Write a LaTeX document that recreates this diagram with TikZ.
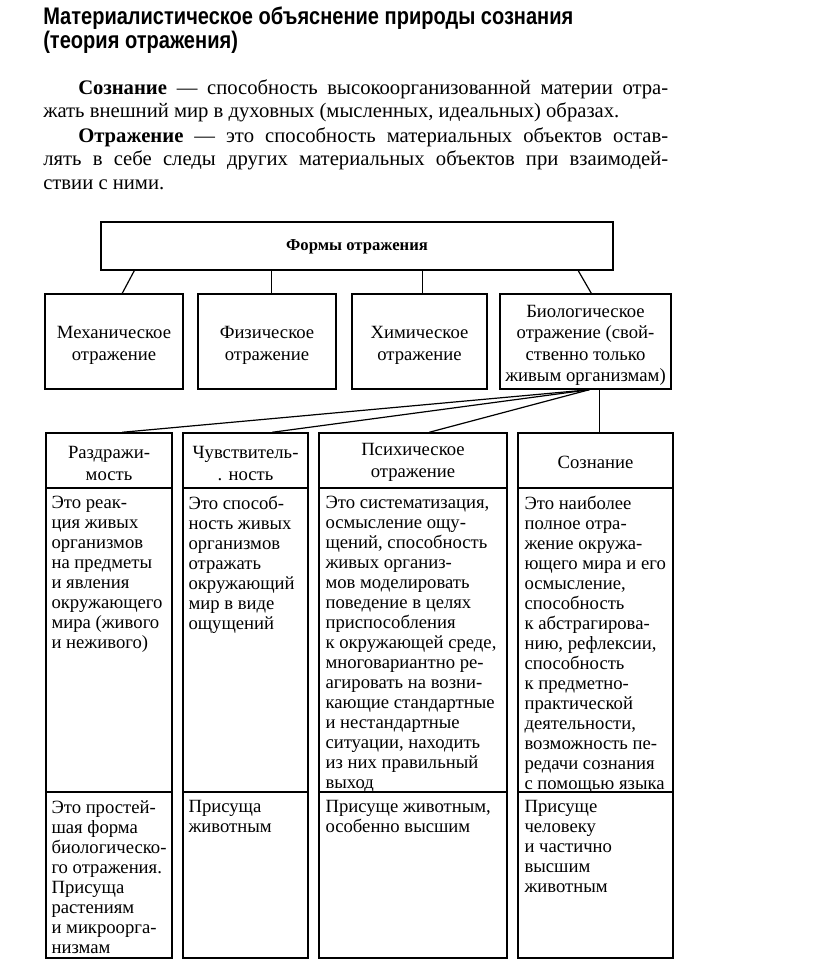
\documentclass[tikz,border=0pt]{standalone}
\usepackage{fontspec}
\setmainfont{Liberation Serif}
\newfontfamily\titlefont{Liberation Sans}
\usetikzlibrary{fit,calc}
\newcommand{\hfitw}[2]{\resizebox{#1}{\height}{#2}}
\begin{document}
\begin{tikzpicture}[x=0.75pt,y=-0.75pt,
  box/.style={draw, inner sep=0pt, line width=1.1pt},
  conn/.style={draw, line width=0.9pt},
  ctxt/.style={inner sep=0pt, align=center, font=\fontsize{14}{16}\selectfont},
  txt/.style={inner sep=0pt, align=left, anchor=north west, font=\fontsize{14}{15}\selectfont},
  para/.style={inner sep=0pt, anchor=base west, font=\fontsize{15.5}{18}\selectfont},
  ttl/.style={inner sep=0pt, anchor=base west, font=\titlefont\bfseries\fontsize{18}{22}\selectfont}]
\useasboundingbox[fill=white] (0,0) rectangle (816,973);

% title
\node[ttl] (t1) at (43,25) {\hfitw{397.5pt}{Материалистическое объяснение природы сознания}};
\node[ttl] (t2) at (43,49) {\hfitw{146pt}{(теория отражения)}};

% paragraph
\node[para] (p1) at (78,95) {\makebox[442.5pt][s]{\textbf{Сознание} — способность высокоорганизованной материи отра-}};
\node[para] (p2) at (43,118) {жать внешний мир в духовных (мысленных, идеальных) образах.};
\node[para] (p3) at (78,143) {\makebox[442.5pt][s]{\textbf{Отражение} — это способность материальных объектов остав-}};
\node[para] (p4) at (43,166) {\makebox[468.75pt][s]{лять в себе следы других материальных объектов при взаимодей-}};
\node[para] (p5) at (43,190) {ствии с ними.};

% top box
\node[box, fit={(101,222)(613,270)}] (T) {};
\node[inner sep=0pt, font=\bfseries\fontsize{12.5}{14}\selectfont] (Tt) at ($(T.center)+(0,1)$) {Формы отражения};

% second row
\node[box, fit={(45,294)(183,389)}] (M1) {};
\node[box, fit={(198,294)(336,389)}] (M2) {};
\node[box, fit={(352,294)(487,389)}] (M3) {};
\node[box, fit={(500,294)(671,389)}] (M4) {};
\node[ctxt] (M1t) at ($(M1.center)+(0,4)$) {Механическое\\отражение};
\node[ctxt] (M2t) at ($(M2.center)+(0,4)$) {Физическое\\отражение};
\node[ctxt] (M3t) at ($(M3.center)+(0,4)$) {Химическое\\отражение};
\node[ctxt] (M4t) at ($(M4.center)+(0,4)$) {Биологическое\\отражение (свой-\\ственно только\\живым организмам)};

\draw[conn] ($(T.south west)+(34,0)$) -- ($(M1.north west)+(78,0)$);
\draw[conn] ($(T.south west)+(171,0)$) -- ($(M2.north west)+(74,0)$);
\draw[conn] ($(T.south west)+(322,0)$) -- ($(M3.north west)+(71,0)$);
\draw[conn] ($(T.south west)+(478,0)$) -- ($(M4.north west)+(92,0)$);

% table headers
\node[box, fit={(46,433)(172,488)}] (H1) {};
\node[box, fit={(183,433)(308,488)}] (H2) {};
\node[box, fit={(319,433)(507,488)}] (H3) {};
\node[box, fit={(518,433)(673,488)}] (H4) {};
\node[ctxt] (H1t) at ($(H1.center)+(0,3)$) {Раздражи-\\мость};
\node[ctxt] (H2t) at ($(H2.center)+(0,3)$) {Чувствитель-\\. ность};
\node[ctxt] (H3t) at ($(H3.center)+(0,2)$) {Психическое\\отражение};
\node[ctxt] (H4t) at ($(H4.center)+(0,2)$) {Сознание};

% bodies
\node[box, fit={(46,488)(172,792)}] (B1) {};
\node[box, fit={(183,488)(308,792)}] (B2) {};
\node[box, fit={(319,488)(507,792)}] (B3) {};
\node[box, fit={(518,488)(673,792)}] (B4) {};

% footers
\node[box, fit={(46,792)(172,958)}] (F1) {};
\node[box, fit={(183,792)(308,958)}] (F2) {};
\node[box, fit={(319,792)(507,958)}] (F3) {};
\node[box, fit={(518,792)(673,958)}] (F4) {};

\node[txt] (B1t) at ($(B1.north west)+(6,9)$) {Это реак-\\ция живых\\организмов\\на предметы\\и явления\\окружающего\\мира (живого\\и неживого)};
\node[txt] (B2t) at ($(B2.north west)+(6,9)$) {Это способ-\\ность живых\\организмов\\отражать\\окружающий\\мир в виде\\ощущений};
\node[txt] (B3t) at ($(B3.north west)+(7,9)$) {Это систематизация,\\осмысление ощу-\\щений, способность\\живых организ-\\мов моделировать\\поведение в целях\\приспособления\\к окружающей среде,\\многовариантно ре-\\агировать на возни-\\кающие стандартные\\и нестандартные\\ситуации, находить\\из них правильный\\выход};
\node[txt] (B4t) at ($(B4.north west)+(7,9)$) {Это наиболее\\полное отра-\\жение окружа-\\ющего мира и его\\осмысление,\\способность\\к абстрагирова-\\нию, рефлексии,\\способность\\к предметно-\\практической\\деятельности,\\возможность пе-\\редачи сознания\\с помощью языка};

\node[txt] (F1t) at ($(F1.north west)+(6,9)$) {Это простей-\\шая форма\\биологическо-\\го отражения.\\Присуща\\растениям\\и микроорга-\\низмам};
\node[txt] (F2t) at ($(F2.north west)+(6,9)$) {Присуща\\животным};
\node[txt] (F3t) at ($(F3.north west)+(7,9)$) {Присуще животным,\\особенно высшим};
\node[txt] (F4t) at ($(F4.north west)+(7,9)$) {Присуще\\человеку\\и частично\\высшим\\животным};

% fan connectors
\draw[conn] ($(M4.south west)+(90,0)$) -- ($(H1.north west)+(77,0)$);
\draw[conn] ($(M4.south west)+(90,0)$) -- ($(H2.north west)+(90,0)$);
\draw[conn] ($(M4.south west)+(90,0)$) -- ($(H3.north west)+(111,0)$);
\draw[conn] ($(M4.south west)+(100,0)$) -- ($(H4.north west)+(82,0)$);
\end{tikzpicture}
\end{document}
